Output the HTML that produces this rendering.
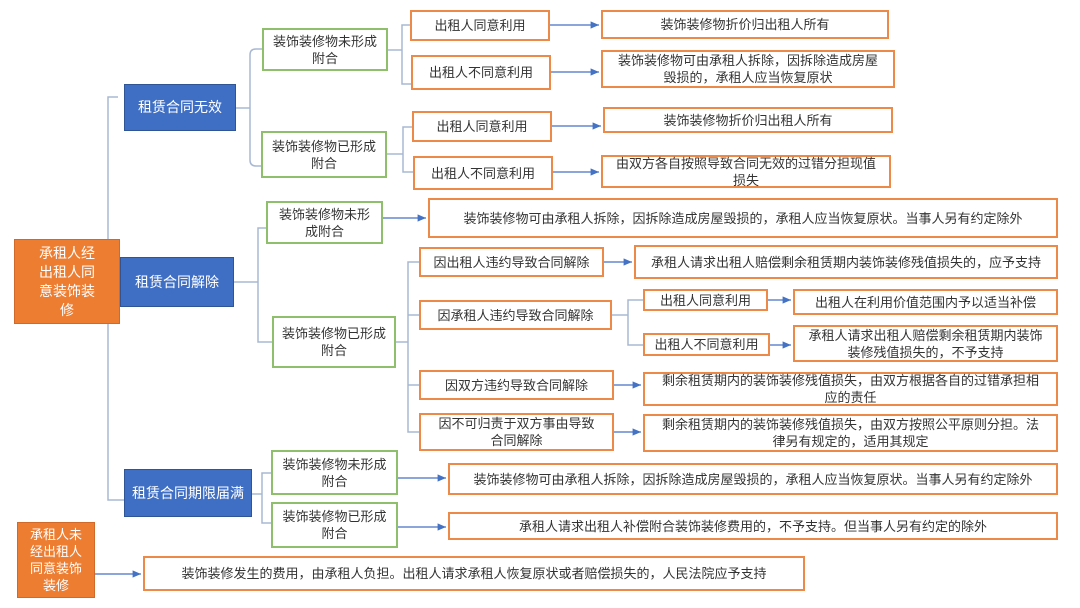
<!DOCTYPE html>
<html><head><meta charset="utf-8"><style>
body{margin:0;width:1080px;height:608px;background:#fff;position:relative;overflow:hidden;font-family:"Liberation Sans","Noto Sans CJK SC",sans-serif;}
.b{position:absolute;box-sizing:border-box;display:flex;align-items:center;justify-content:center;text-align:center;font-size:13px;line-height:17px;color:#333;background:#fff;}
.o{border:2px solid #ed8a4a;}
.g{border:2px solid #8fbf6a;}
.bl{background:#3f6fc4;color:#fff;border:1px solid #2f5597;font-size:14px;}
.r{background:#ed7d31;color:#fff;border:1px solid #d0692a;font-size:14px;line-height:19px;}
svg{position:absolute;left:0;top:0;}
</style></head><body>
<svg width="1080" height="608">
<defs><marker id="a" markerWidth="8" markerHeight="8" refX="7" refY="4" orient="auto"><path d="M0,1 L7,4 L0,7z" fill="#4472c4"/></marker></defs>
<g stroke="#a8b8d4" stroke-width="1.5" fill="none">
<path d="M120,281 H108 M118,97 H108 V500 H124 M108,281 H118"/>
<path d="M236,108 H250 M262,49 H256 Q250,49 250,55 V160 Q250,166 256,166 H262"/>
<path d="M234,282 H258 M266,228 H258 V342 H272"/>
<path d="M252,494 H262 M272,473 H262 V523 H272"/>
<path d="M388,50 H402 M410,25 H402 V84 H411"/>
<path d="M387,154 H403 M412,127 H403 V172 H413"/>
<path d="M396,342 H408 M419,262 H408 V432 H419 M408,315 H419 M408,385 H419"/>
<path d="M612,315 H628 M643,300 H628 V345 H643"/>
</g>
<g stroke="#4472c4" stroke-width="1.2" marker-end="url(#a)">
<line x1="550" y1="25" x2="599" y2="25"/>
<line x1="551" y1="72" x2="599" y2="72"/>
<line x1="552" y1="126" x2="601" y2="126"/>
<line x1="553" y1="172" x2="599" y2="172"/>
<line x1="383" y1="218" x2="426" y2="218"/>
<line x1="604" y1="262" x2="632" y2="262"/>
<line x1="768" y1="300" x2="791" y2="300"/>
<line x1="770" y1="345" x2="791" y2="345"/>
<line x1="614" y1="385" x2="641" y2="385"/>
<line x1="614" y1="432" x2="641" y2="432"/>
<line x1="398" y1="478" x2="446" y2="478"/>
<line x1="398" y1="527" x2="446" y2="527"/>
<line x1="95" y1="574" x2="141" y2="574"/>
</g>
</svg>
<div class="b r" style="left:14px;top:239px;width:106px;height:85px;">承租人经<br>出租人同<br>意装饰装<br>修</div>
<div class="b r" style="left:17px;top:522px;width:78px;height:76px;font-size:13px;line-height:17px;">承租人未<br>经出租人<br>同意装饰<br>装修</div>
<div class="b bl" style="left:124px;top:84px;width:112px;height:47px;">租赁合同无效</div>
<div class="b bl" style="left:120px;top:257px;width:114px;height:50px;">租赁合同解除</div>
<div class="b bl" style="left:124px;top:469px;width:128px;height:48px;">租赁合同期限届满</div>
<div class="b g" style="left:262px;top:28px;width:126px;height:43px;">装饰装修物未形成<br>附合</div>
<div class="b g" style="left:261px;top:131px;width:126px;height:47px;">装饰装修物已形成<br>附合</div>
<div class="b g" style="left:266px;top:201px;width:117px;height:43px;">装饰装修物未形<br>成附合</div>
<div class="b g" style="left:272px;top:316px;width:124px;height:52px;">装饰装修物已形成<br>附合</div>
<div class="b g" style="left:271px;top:450px;width:127px;height:45px;">装饰装修物未形成<br>附合</div>
<div class="b g" style="left:271px;top:502px;width:127px;height:46px;">装饰装修物已形成<br>附合</div>
<div class="b o" style="left:410px;top:10px;width:140px;height:31px;">出租人同意利用</div>
<div class="b o" style="left:411px;top:55px;width:140px;height:35px;">出租人不同意利用</div>
<div class="b o" style="left:412px;top:111px;width:140px;height:31px;">出租人同意利用</div>
<div class="b o" style="left:413px;top:156px;width:140px;height:34px;">出租人不同意利用</div>
<div class="b o" style="left:601px;top:10px;width:288px;height:29px;">装饰装修物折价归出租人所有</div>
<div class="b o" style="left:601px;top:50px;width:294px;height:38px;">装饰装修物可由承租人拆除，因拆除造成房屋<br>毁损的，承租人应当恢复原状</div>
<div class="b o" style="left:603px;top:107px;width:290px;height:26px;">装饰装修物折价归出租人所有</div>
<div class="b o" style="left:601px;top:155px;width:290px;height:33px;">由双方各自按照导致合同无效的过错分担现值<br>损失</div>
<div class="b o" style="left:428px;top:198px;width:630px;height:40px;">装饰装修物可由承租人拆除，因拆除造成房屋毁损的，承租人应当恢复原状。当事人另有约定除外</div>
<div class="b o" style="left:419px;top:247px;width:185px;height:30px;">因出租人违约导致合同解除</div>
<div class="b o" style="left:634px;top:245px;width:424px;height:34px;">承租人请求出租人赔偿剩余租赁期内装饰装修残值损失的，应予支持</div>
<div class="b o" style="left:419px;top:300px;width:193px;height:30px;">因承租人违约导致合同解除</div>
<div class="b o" style="left:643px;top:289px;width:125px;height:22px;">出租人同意利用</div>
<div class="b o" style="left:643px;top:333px;width:127px;height:23px;">出租人不同意利用</div>
<div class="b o" style="left:793px;top:289px;width:265px;height:26px;">出租人在利用价值范围内予以适当补偿</div>
<div class="b o" style="left:793px;top:325px;width:265px;height:37px;">承租人请求出租人赔偿剩余租赁期内装饰<br>装修残值损失的，不予支持</div>
<div class="b o" style="left:419px;top:370px;width:195px;height:30px;">因双方违约导致合同解除</div>
<div class="b o" style="left:643px;top:372px;width:415px;height:34px;">剩余租赁期内的装饰装修残值损失，由双方根据各自的过错承担相<br>应的责任</div>
<div class="b o" style="left:419px;top:413px;width:195px;height:38px;">因不可归责于双方事由导致<br>合同解除</div>
<div class="b o" style="left:643px;top:414px;width:415px;height:38px;">剩余租赁期内的装饰装修残值损失，由双方按照公平原则分担。法<br>律另有规定的，适用其规定</div>
<div class="b o" style="left:448px;top:463px;width:610px;height:32px;">装饰装修物可由承租人拆除，因拆除造成房屋毁损的，承租人应当恢复原状。当事人另有约定除外</div>
<div class="b o" style="left:448px;top:512px;width:610px;height:28px;">承租人请求出租人补偿附合装饰装修费用的，不予支持。但当事人另有约定的除外</div>
<div class="b o" style="left:143px;top:556px;width:662px;height:35px;">装饰装修发生的费用，由承租人负担。出租人请求承租人恢复原状或者赔偿损失的，人民法院应予支持</div>
</body></html>
